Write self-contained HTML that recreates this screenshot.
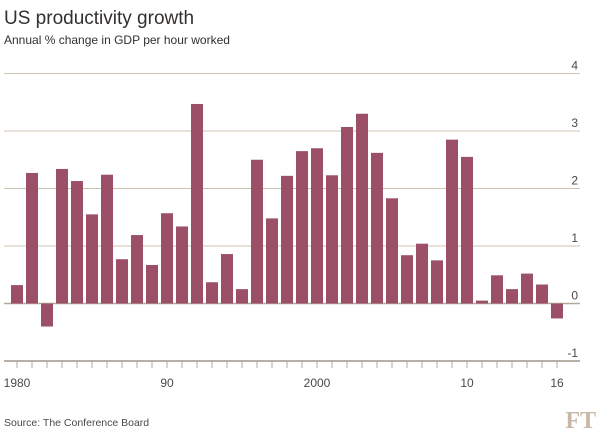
<!DOCTYPE html>
<html><head><meta charset="utf-8"><style>
body{margin:0;background:#fff;font-family:"Liberation Sans",sans-serif;}
#wrap{position:relative;width:600px;height:437px;overflow:hidden;background:#fff}
</style></head><body>
<div id="wrap">
<svg id="chart" width="600" height="437">
<text x="4" y="24" font-size="19" fill="#33302e">US productivity growth</text>
<text x="4" y="44" font-size="12" fill="#33302e">Annual % change in GDP per hour worked</text>
<g id="grid"></g>
<g id="bars"></g>
<g id="xaxis"></g>
<text x="4" y="426" font-size="10.5" fill="#4d4845">Source: The Conference Board</text>
<text x="596" y="428" font-size="24" text-anchor="end" fill="#c9b8a5" font-family="Liberation Serif,serif" font-weight="bold">FT</text>
</svg>
</div>
<script>
const years=[1980,1981,1982,1983,1984,1985,1986,1987,1988,1989,1990,1991,1992,1993,1994,1995,1996,1997,1998,1999,2000,2001,2002,2003,2004,2005,2006,2007,2008,2009,2010,2011,2012,2013,2014,2015,2016];
const values=[0.32,2.27,-0.4,2.34,2.13,1.55,2.24,0.77,1.19,0.67,1.57,1.34,3.47,0.37,0.86,0.25,2.5,1.48,2.22,2.65,2.7,2.23,3.07,3.3,2.62,1.83,0.84,1.04,0.75,2.85,2.55,0.05,0.49,0.25,0.52,0.33,-0.26];
const yTicks=[4,3,2,1,0,-1];
const xLabels=[[1980,'1980'],[1990,'90'],[2000,'2000'],[2010,'10'],[2016,'16']];
const NS='http://www.w3.org/2000/svg';
const y=v=>303.5-v*57.5;
const x=yr=>17+(yr-1980)*15;
const grid=document.getElementById('grid'),bars=document.getElementById('bars'),xa=document.getElementById('xaxis');
function mk(tag,attrs,parent){const e=document.createElementNS(NS,tag);for(const k in attrs)e.setAttribute(k,attrs[k]);parent.appendChild(e);return e;}
yTicks.forEach(t=>{
 const l=mk('line',{x1:4,x2:580,y1:y(t),y2:y(t),stroke:t===0?'#b5a99d':(t===-1?'#9e958c':'#cfc3b6'),'stroke-width':t<=0?1.5:1},grid);
 
 
 const tx=mk('text',{x:578,y:y(t)-4,'font-size':12,'text-anchor':'end',fill:'#4d4845'},grid);
 tx.textContent=t;
 
 
});
values.forEach((v,i)=>{
 const r=mk('rect',{x:x(years[i])-6,width:12,y:Math.min(y(v),y(0)),height:Math.abs(y(v)-y(0)),fill:'#9b5068'},bars);
 
 
});
years.forEach(yr=>{
 const t=mk('line',{x1:x(yr),x2:x(yr),y1:y(-1),y2:y(-1)+7,stroke:'#b5a99d'},xa);
 
 
});
xLabels.forEach(([yr,s])=>{
 const t=mk('text',{x:x(yr),y:387,'font-size':12,'text-anchor':'middle',fill:'#4d4845'},xa);
 t.textContent=s;
 
 
});
</script>
</body></html>
